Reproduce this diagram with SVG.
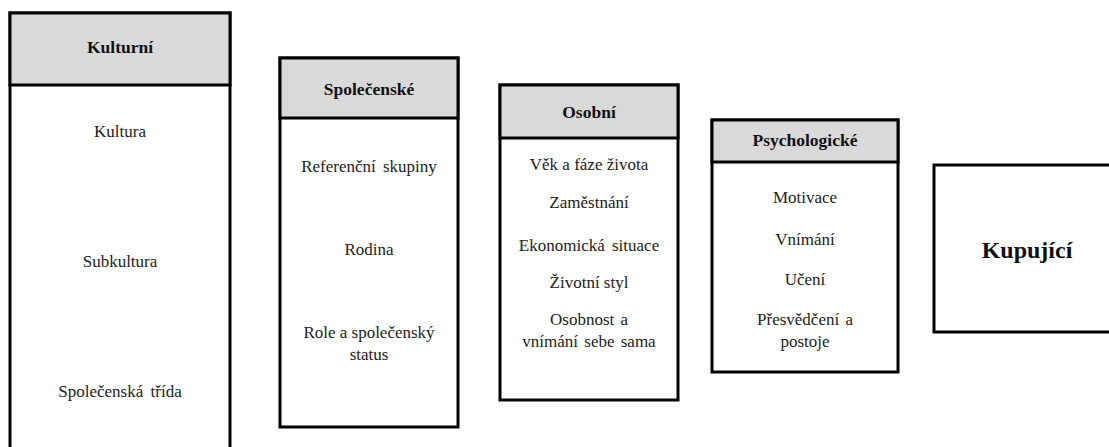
<svg xmlns="http://www.w3.org/2000/svg" width="1109" height="447" viewBox="0 0 1109 447">
<style>
.box{fill:#ffffff;stroke:#000000;stroke-width:3}
.hdr{fill:#d9d9d9;stroke:#000000;stroke-width:3}
text{font-family:"Times New Roman","Liberation Serif","DejaVu Serif",serif;text-anchor:middle}
.t{font-size:17px;fill:#222222}
.h{font-size:17.5px;font-weight:bold;fill:#111111}
.big{font-size:24px;font-weight:bold;fill:#111111}
</style>
<rect width="1109" height="447" fill="#ffffff"/>
<g id="kulturni">
<rect class="box" x="10" y="13" width="220" height="460"/>
<rect class="hdr" x="10" y="13" width="220" height="72"/>
<text class="h" x="120" y="53">Kulturní</text>
<text class="t" x="120" y="137">Kultura</text>
<text class="t" x="120" y="267">Subkultura</text>
<text class="t" x="120" y="397" word-spacing="3">Společenská třída</text>
</g>
<g id="spolecenske">
<rect class="box" x="280" y="58" width="178" height="369"/>
<rect class="hdr" x="280" y="58" width="178" height="60"/>
<text class="h" x="369" y="95">Společenské</text>
<text class="t" x="369" y="172" word-spacing="3">Referenční skupiny</text>
<text class="t" x="369" y="255">Rodina</text>
<text class="t" x="369" y="338">Role a společenský</text>
<text class="t" x="369" y="360">status</text>
</g>
<g id="osobni">
<rect class="box" x="500" y="85" width="178" height="315"/>
<rect class="hdr" x="500" y="85" width="178" height="53"/>
<text class="h" x="589" y="118">Osobní</text>
<text class="t" x="589" y="170">Věk a fáze života</text>
<text class="t" x="589" y="208">Zaměstnání</text>
<text class="t" x="589" y="251" word-spacing="3">Ekonomická situace</text>
<text class="t" x="589" y="288">Životní styl</text>
<text class="t" x="589" y="325" word-spacing="2">Osobnost a</text>
<text class="t" x="589" y="347" word-spacing="2">vnímání sebe sama</text>
</g>
<g id="psychologicke">
<rect class="box" x="712" y="120" width="186" height="252"/>
<rect class="hdr" x="712" y="120" width="186" height="42"/>
<text class="h" x="805" y="146">Psychologické</text>
<text class="t" x="805" y="203">Motivace</text>
<text class="t" x="805" y="245">Vnímání</text>
<text class="t" x="805" y="285">Učení</text>
<text class="t" x="805" y="325" word-spacing="2">Přesvědčení a</text>
<text class="t" x="805" y="347">postoje</text>
</g>
<g id="kupujici">
<rect class="box" x="934" y="165" width="200" height="167"/>
<text class="big" x="1027" y="258">Kupující</text>
</g>
<g id="connectors"></g>
</svg>
